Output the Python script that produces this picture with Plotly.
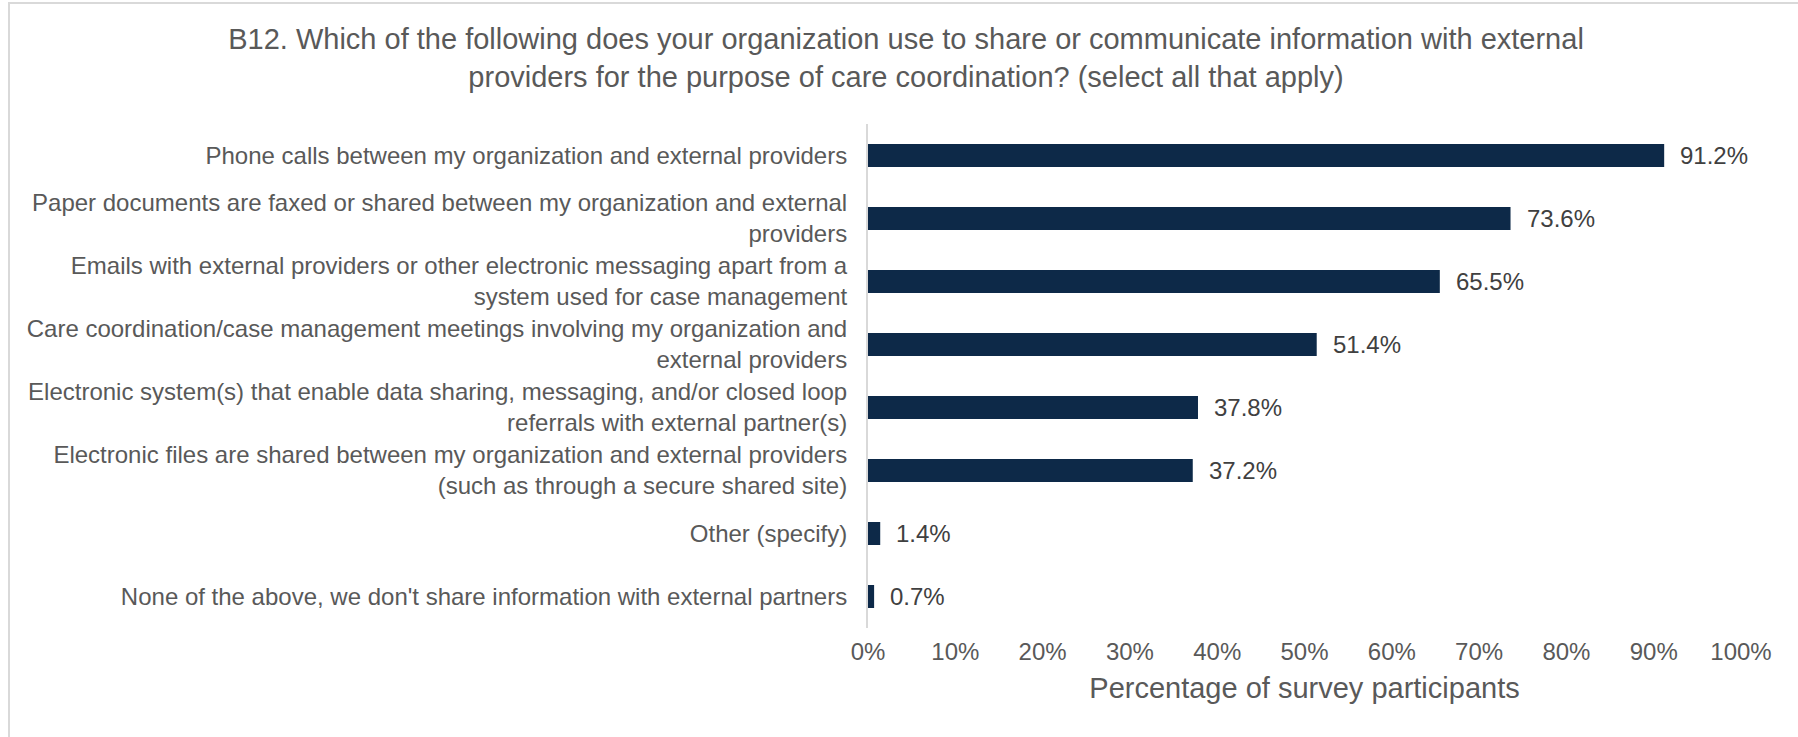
import plotly.graph_objects as go

# Survey responses, listed top to bottom
categories = [
    "Phone calls between my organization and external providers",
    "Paper documents are faxed or shared between my organization and external<br>providers",
    "Emails with external providers or other electronic messaging apart from a<br>system used for case management",
    "Care coordination/case management meetings involving my organization and<br>external providers",
    "Electronic system(s) that enable data sharing, messaging, and/or closed loop<br>referrals with external partner(s)",
    "Electronic files are shared between my organization and external providers<br>(such as through a secure shared site)",
    "Other (specify)",
    "None of the above, we don't share information with external partners",
]
percentages = [91.2, 73.6, 65.5, 51.4, 37.8, 37.2, 1.4, 0.7]
tick_values = [0, 10, 20, 30, 40, 50, 60, 70, 80, 90, 100]
tick_labels = [f"{v}%" for v in tick_values]

TEXT = "#595959"
BAR = "#0d2948"
FONT = "Liberation Sans, Arial, sans-serif"

W, H = 1798, 737
L, R, T, B = 868, 57, 124, 109
plot_w = W - L - R
plot_h = H - T - B

fig = go.Figure(
    go.Bar(
        x=percentages,
        y=categories,
        orientation="h",
        marker=dict(color=BAR, line=dict(width=0)),
        hoverinfo="skip",
    )
)

# Value labels to the right of each bar
for cat, val in zip(categories, percentages):
    fig.add_annotation(
        x=val, y=cat, xref="x", yref="y",
        text=f"{val:.1f}%", showarrow=False,
        xanchor="left", yanchor="middle", xshift=14,
        font=dict(family=FONT, size=24, color="#404040"),
    )

# Light frame around the chart area
fig.add_shape(
    type="rect", xref="paper", yref="paper",
    x0=(9 - L) / plot_w, x1=(W + 5 - L) / plot_w,
    y0=(H - B - (H + 5)) / plot_h, y1=(H - B - 3) / plot_h,
    line=dict(color="#d9d9d9", width=2), fillcolor="rgba(0,0,0,0)",
    layer="below",
)

fig.update_layout(
    width=W, height=H,
    margin=dict(l=L, r=R, t=T, b=B),
    paper_bgcolor="white", plot_bgcolor="white",
    bargap=0.635,
    showlegend=False,
    font=dict(family=FONT, color=TEXT),
    title=dict(
        text="B12. Which of the following does your organization use to share or communicate information with external<br>providers for the purpose of care coordination? (select all that apply)",
        x=906 / W, xanchor="center", xref="container",
        y=1 - 49 / H, yanchor="middle", yref="container",
        font=dict(family=FONT, size=29, color=TEXT),
    ),
    xaxis=dict(
        range=[0, 100],
        tickvals=tick_values, ticktext=tick_labels,
        tickfont=dict(family=FONT, size=24, color=TEXT),
        showgrid=False, zeroline=False, showline=False,
        ticks="", ticklabelstandoff=7,
        title=dict(text="Percentage of survey participants",
                   font=dict(family=FONT, size=29, color=TEXT), standoff=13),
        fixedrange=True,
    ),
    yaxis=dict(
        autorange="reversed",
        tickfont=dict(family=FONT, size=24, color=TEXT),
        showgrid=False, zeroline=False,
        showline=True, linecolor="#d9d9d9", linewidth=2,
        ticks="", ticklabelstandoff=14,
        fixedrange=True,
    ),
)

fig.write_html("out.html")
